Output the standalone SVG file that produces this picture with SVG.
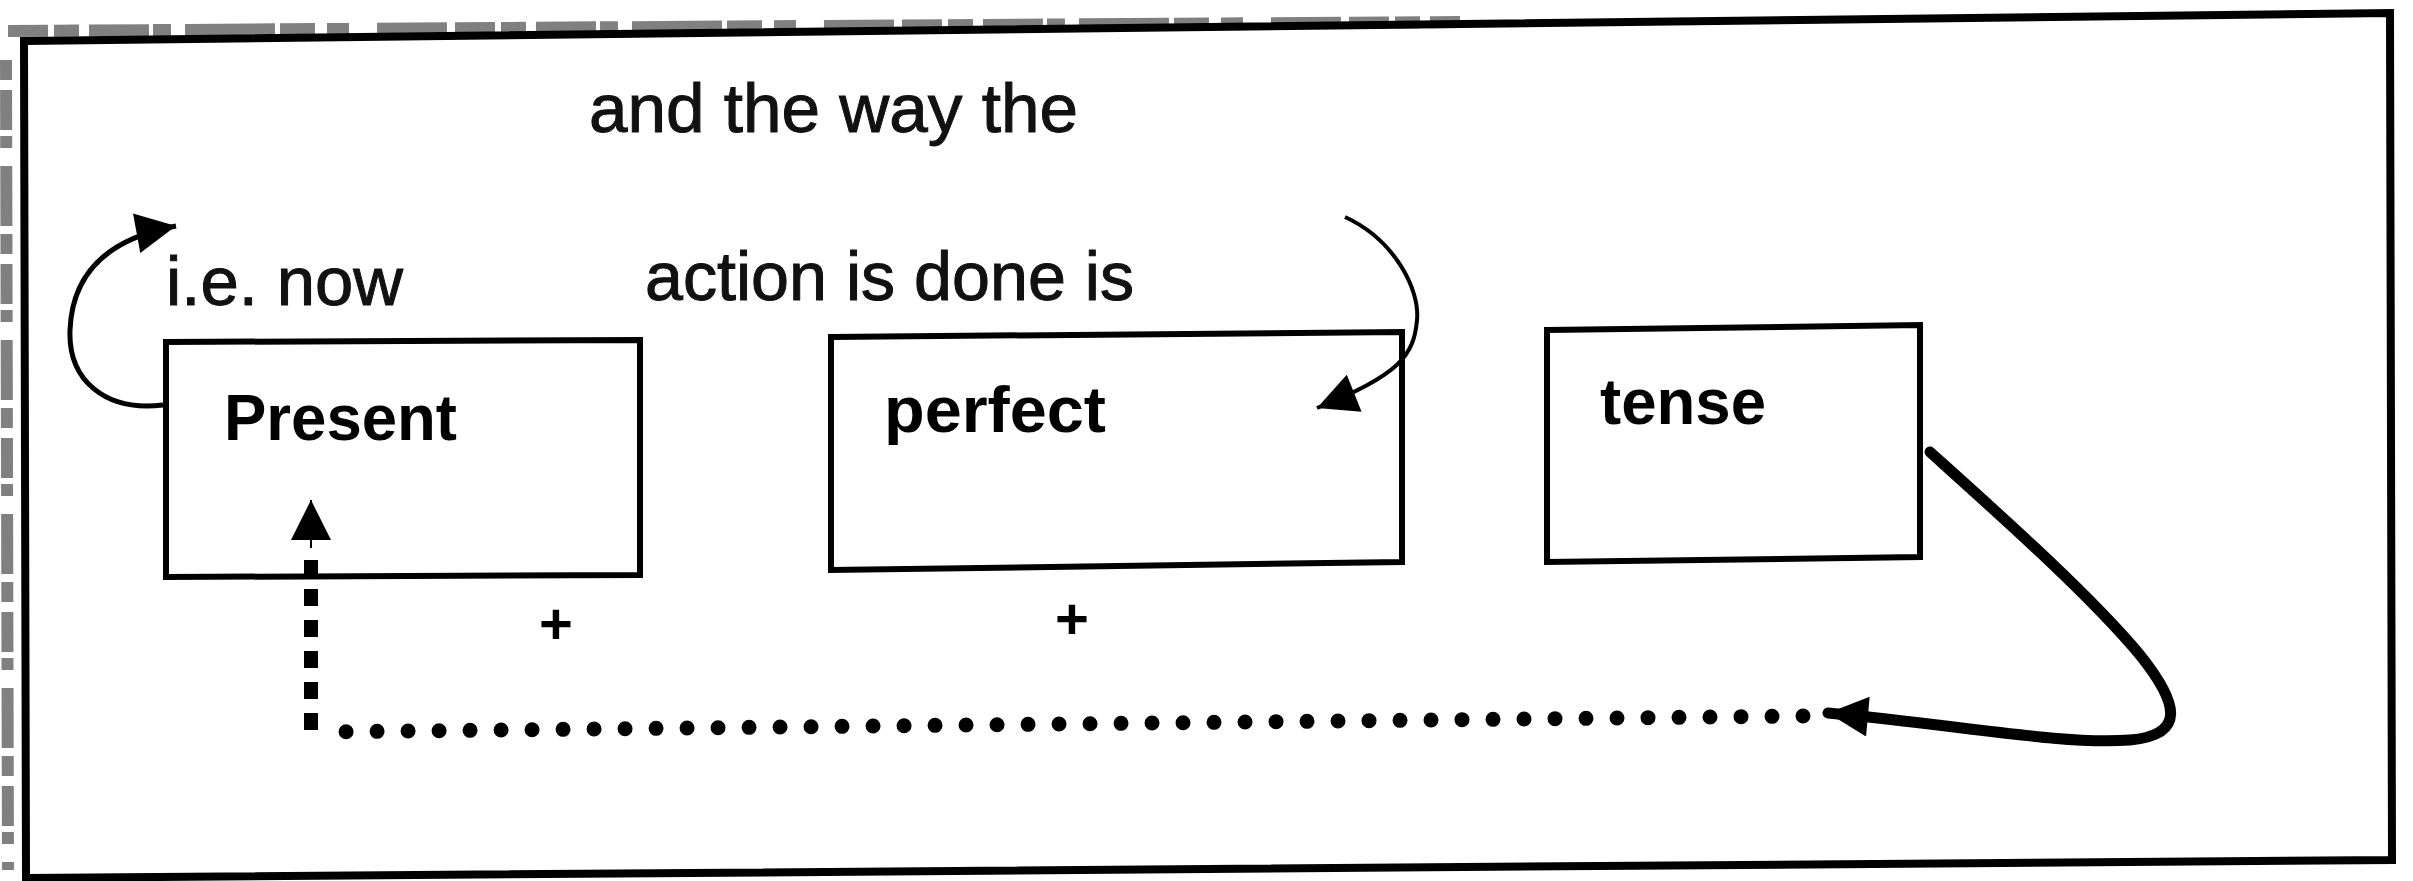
<svg xmlns="http://www.w3.org/2000/svg" width="2413" height="881" viewBox="0 0 2413 881">
<defs>
<marker id="head" viewBox="0 0 10 10" refX="10" refY="5" markerUnits="userSpaceOnUse" markerWidth="44" markerHeight="40" orient="auto">
<path d="M0,0 L10,5 L0,10 Z" fill="#000"/>
</marker>
<style>
.frame{fill:none;stroke:#000;stroke-width:8;stroke-linejoin:miter}
.box{fill:#fff;stroke:#000;stroke-width:6}
.lbl{font-family:"Liberation Sans",Arial,sans-serif;font-size:68px;fill:#111;stroke:#111;stroke-width:1}
.bold{font-family:"Liberation Sans",Arial,sans-serif;font-size:65px;font-weight:bold;fill:#000}
.plus{font-family:"Liberation Sans",Arial,sans-serif;font-size:58px;font-weight:bold;fill:#000;text-anchor:middle}
.noise{fill:none;stroke:#555;stroke-width:12;opacity:0.75}
</style>
</defs>
<rect width="2413" height="881" fill="#fff"/>
<g id="scan-noise">
<path class="noise" d="M8,31 L1460,22" stroke-dasharray="40 6 25 10 60 4 18 14 90 5 35 12 22 28 70 8"/>
<path class="noise" d="M6,60 L8,870" stroke-dasharray="20 10 40 6 12 18 60 8" stroke-width="9" stroke="#777"/>
</g>
<g id="frame">
<path class="frame" d="M24,41 L2390,13 L2392,860 L26,878 Z"/>
</g>
<g id="texts">
<text class="lbl" x="589" y="132" textLength="489" lengthAdjust="spacingAndGlyphs">and the way the</text>
<text class="lbl" x="166" y="305" textLength="237" lengthAdjust="spacingAndGlyphs">i.e. now</text>
<text class="lbl" x="645" y="300" textLength="489" lengthAdjust="spacingAndGlyphs">action is done is</text>
<text class="plus" x="556" y="644">+</text>
<text class="plus" x="1072" y="639">+</text>
</g>
<g id="node-present">
<path class="box" d="M166,342 L640,340 L640,575 L166,577 Z"/>
<text class="bold" x="224" y="440" textLength="233" lengthAdjust="spacingAndGlyphs">Present</text>
</g>
<g id="node-perfect">
<path class="box" d="M831,337 L1402,332 L1402,562 L831,570 Z"/>
<text class="bold" x="884" y="432" textLength="222" lengthAdjust="spacingAndGlyphs">perfect</text>
</g>
<g id="node-tense">
<path class="box" d="M1547,330 L1920,325 L1920,557 L1547,562 Z"/>
<text class="bold" x="1600" y="424" textLength="166" lengthAdjust="spacingAndGlyphs">tense</text>
</g>
<g id="connectors" fill="none" stroke="#000">
<path d="M163,405 C105,412 68,380 70,330 C72,280 100,240 176,226" stroke-width="5" marker-end="url(#head)"/>
<path d="M1345,217 C1395,240 1420,290 1417,320 C1414,355 1400,375 1317,408" stroke-width="4" marker-end="url(#head)"/>
<path d="M1930,452 C2000,515 2090,595 2140,655 C2180,705 2185,735 2130,740 C2060,745 1960,725 1828,713" stroke-width="11" stroke-linecap="round" marker-end="url(#head)"/>
<path d="M1803,716 L318,732" stroke-width="15" stroke-linecap="round" stroke-dasharray="0 31"/>
<path d="M311,730 L311,560" stroke-width="14" stroke-dasharray="17 14"/>
<path d="M311,548 L311,500" stroke-width="2" marker-end="url(#head)"/>
</g>
</svg>
